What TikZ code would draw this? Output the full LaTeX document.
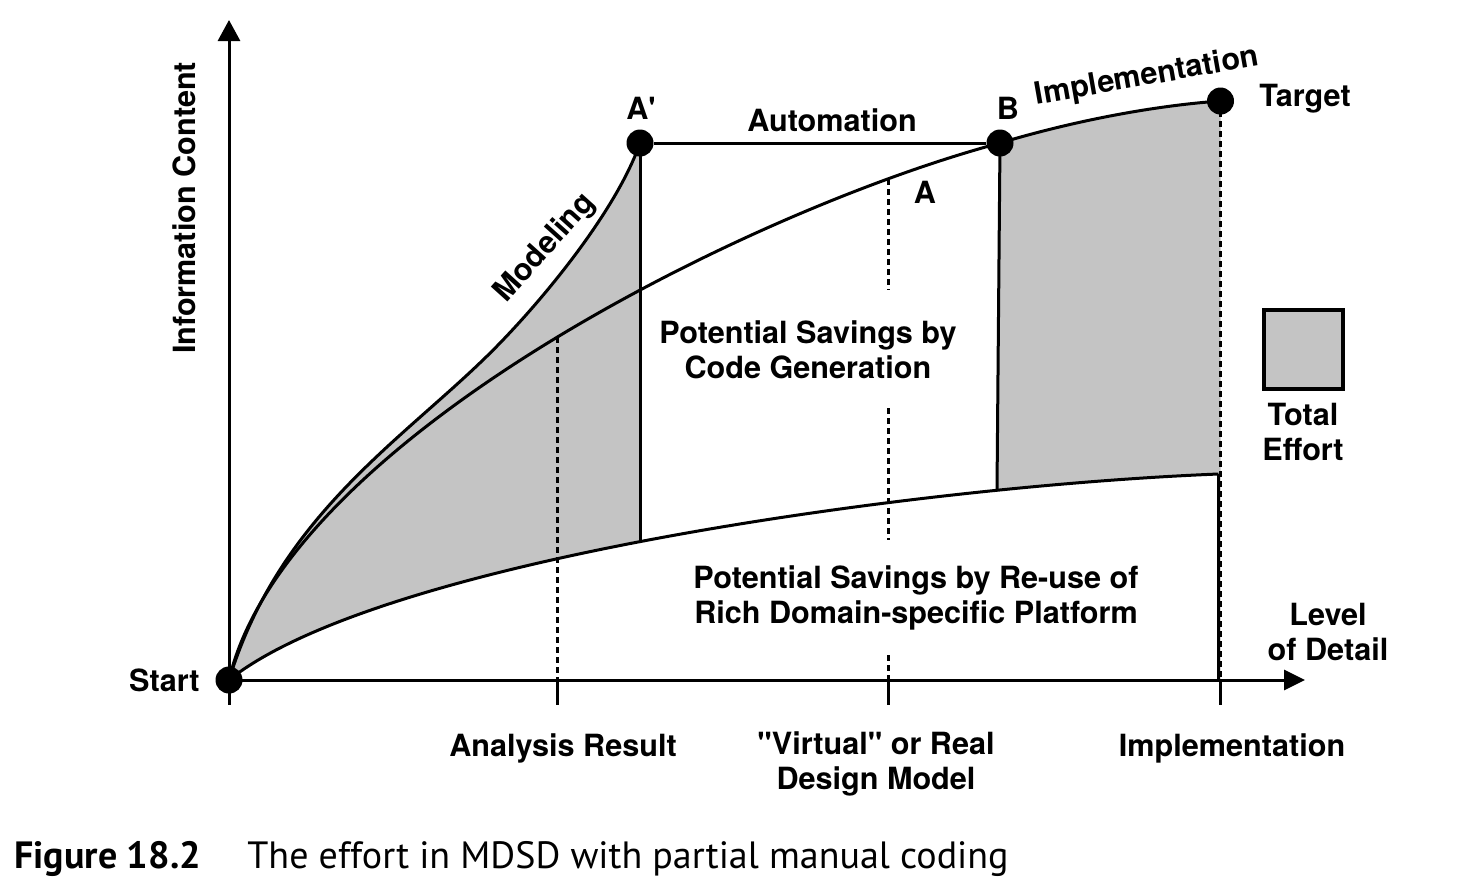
\documentclass[tikz,border=0pt]{standalone}
\usepackage{fontspec}
\setmainfont{TeX Gyre Heros}
\newfontfamily\capfont{PT Sans}
\usetikzlibrary{arrows.meta}
\definecolor{effortgray}{RGB}{196,196,196}

\tikzset{
    lbl/.style={font=\bfseries\fontsize{15.3}{17.3}\selectfont, align=center, inner sep=0pt},
    curve/.style={line width=1.5pt, line join=round},
    axis/.style={line width=1.5pt},
    guide/.style={line width=1.5pt, dash pattern=on 3pt off 2pt},
    dot/.style={circle, fill, inner sep=0pt, minimum size=13.5pt},
    effort/.style={fill=effortgray},
}

\begin{document}
\begin{tikzpicture}[x=0.5pt, y=-0.5pt]
    \useasboundingbox (0,0) rectangle (1464,890);

    % grey areas, then white below the platform curve
    \fill[effort] (229,680) .. controls (278,520) and (395,445) .. (483,360)
        .. controls (533,312) and (615,215) .. (640,143) -- (640,680) -- cycle;
    \fill[effort] (1000,143) .. controls (1070,122) and (1150,106) .. (1220.5,101)
        -- (1220.5,680) -- (997,680) -- cycle;
    \fill[white] (229,680) .. controls (379,560) and (918,486) .. (1218.5,474)
        -- (1218.5,680) -- cycle;

    \node[dot] (start) at (229,680) {};
    \node[dot] (ap) at (640,143) {};
    \node[dot] (b) at (1000,143) {};
    \node[dot] (target) at (1220.5,101) {};

    \coordinate (ytip) at (229,20);
    \coordinate (xtip) at (1305,680);
    \coordinate (platend) at (1218.5,474);

    \draw[axis, -{Triangle[width=11pt, length=10.5pt]}] (start.center) -- (ytip);
    \draw[axis, -{Triangle[width=10pt, length=10.5pt]}] (start.center) -- (xtip);
    \foreach \x in {229, 557, 888, 1220}
        \draw[axis] (\x,680) -- (\x,705);

    \draw[curve] (start.center) .. controls (278,520) and (395,445) .. (483,360)
        .. controls (533,312) and (615,215) .. (ap.center);
    \draw[curve] (start.center) .. controls (285,440) and (750,210) .. (b.center);
    \draw[curve] (b.center) .. controls (1070,122) and (1150,106) .. (target.center);
    \draw[curve] (start.center) .. controls (379,560) and (918,486) .. (platend);

    \draw[curve] (ap) -- (b);
    \draw[curve] (ap.center) -- (640,541);
    \draw[curve] (b.center) -- (997,490);
    \draw[curve] (platend) -- (1218.5,680);

    \draw[guide] (557,337) -- (557,680);
    \draw[guide] (888,179) -- (888,290);
    \draw[guide] (888,408) -- (888,540);
    \draw[guide] (888,655) -- (888,680);
    \draw[guide] (target.center) -- (1220.5,680);

    \node[draw, line width=2pt, fill=effortgray, minimum width=39.5pt, minimum height=39.5pt] (legend) at (1303.5,349.5) {};
    \node[lbl] (legendtxt) at (1303,432) {Total\\Effort};

    \node[lbl, rotate=90] (ylabel) at (184,208) {Information Content};
    \node[lbl, anchor=east] (startlbl) at (200,680) {Start};
    \node[lbl] (aplbl) at (641,108) {A\textquotesingle};
    \node[lbl] (automation) at (832,120) {Automation};
    \node[lbl] (blbl) at (1008,108) {B};
    \node[lbl, rotate=10] (impl) at (1147,77) {Implementation};
    \node[lbl] (targetlbl) at (1305,99) {Target};
    \node[lbl] (albl) at (925,192) {A};
    \node[lbl, rotate=48] (modeling) at (545,248) {Modeling};
    \node[lbl] (codegen) at (808,350) {Potential Savings by\\Code Generation};
    \node[lbl] (reuse) at (916,598) {Potential Savings by Re-use of\\Rich Domain-specific Platform};
    \node[lbl] (xlabel) at (1328,632) {Level\\of Detail};
    \node[lbl] (analysis) at (563,748) {Analysis Result};
    \node[lbl] (design) at (876,764) {\textquotedbl Virtual\textquotedbl{} or Real\\Design Model};
    \node[lbl] (impltick) at (1232,748) {Implementation};

    \node[anchor=base west, inner sep=0pt, font=\capfont\bfseries\fontsize{19}{22}\selectfont] (capnum) at (14,868) {Figure 18.2};
    \node[anchor=base west, inner sep=0pt, font=\capfont\fontsize{19}{22}\selectfont] (captext) at (247,868) {The effort in MDSD with partial manual coding};
\end{tikzpicture}
\end{document}
